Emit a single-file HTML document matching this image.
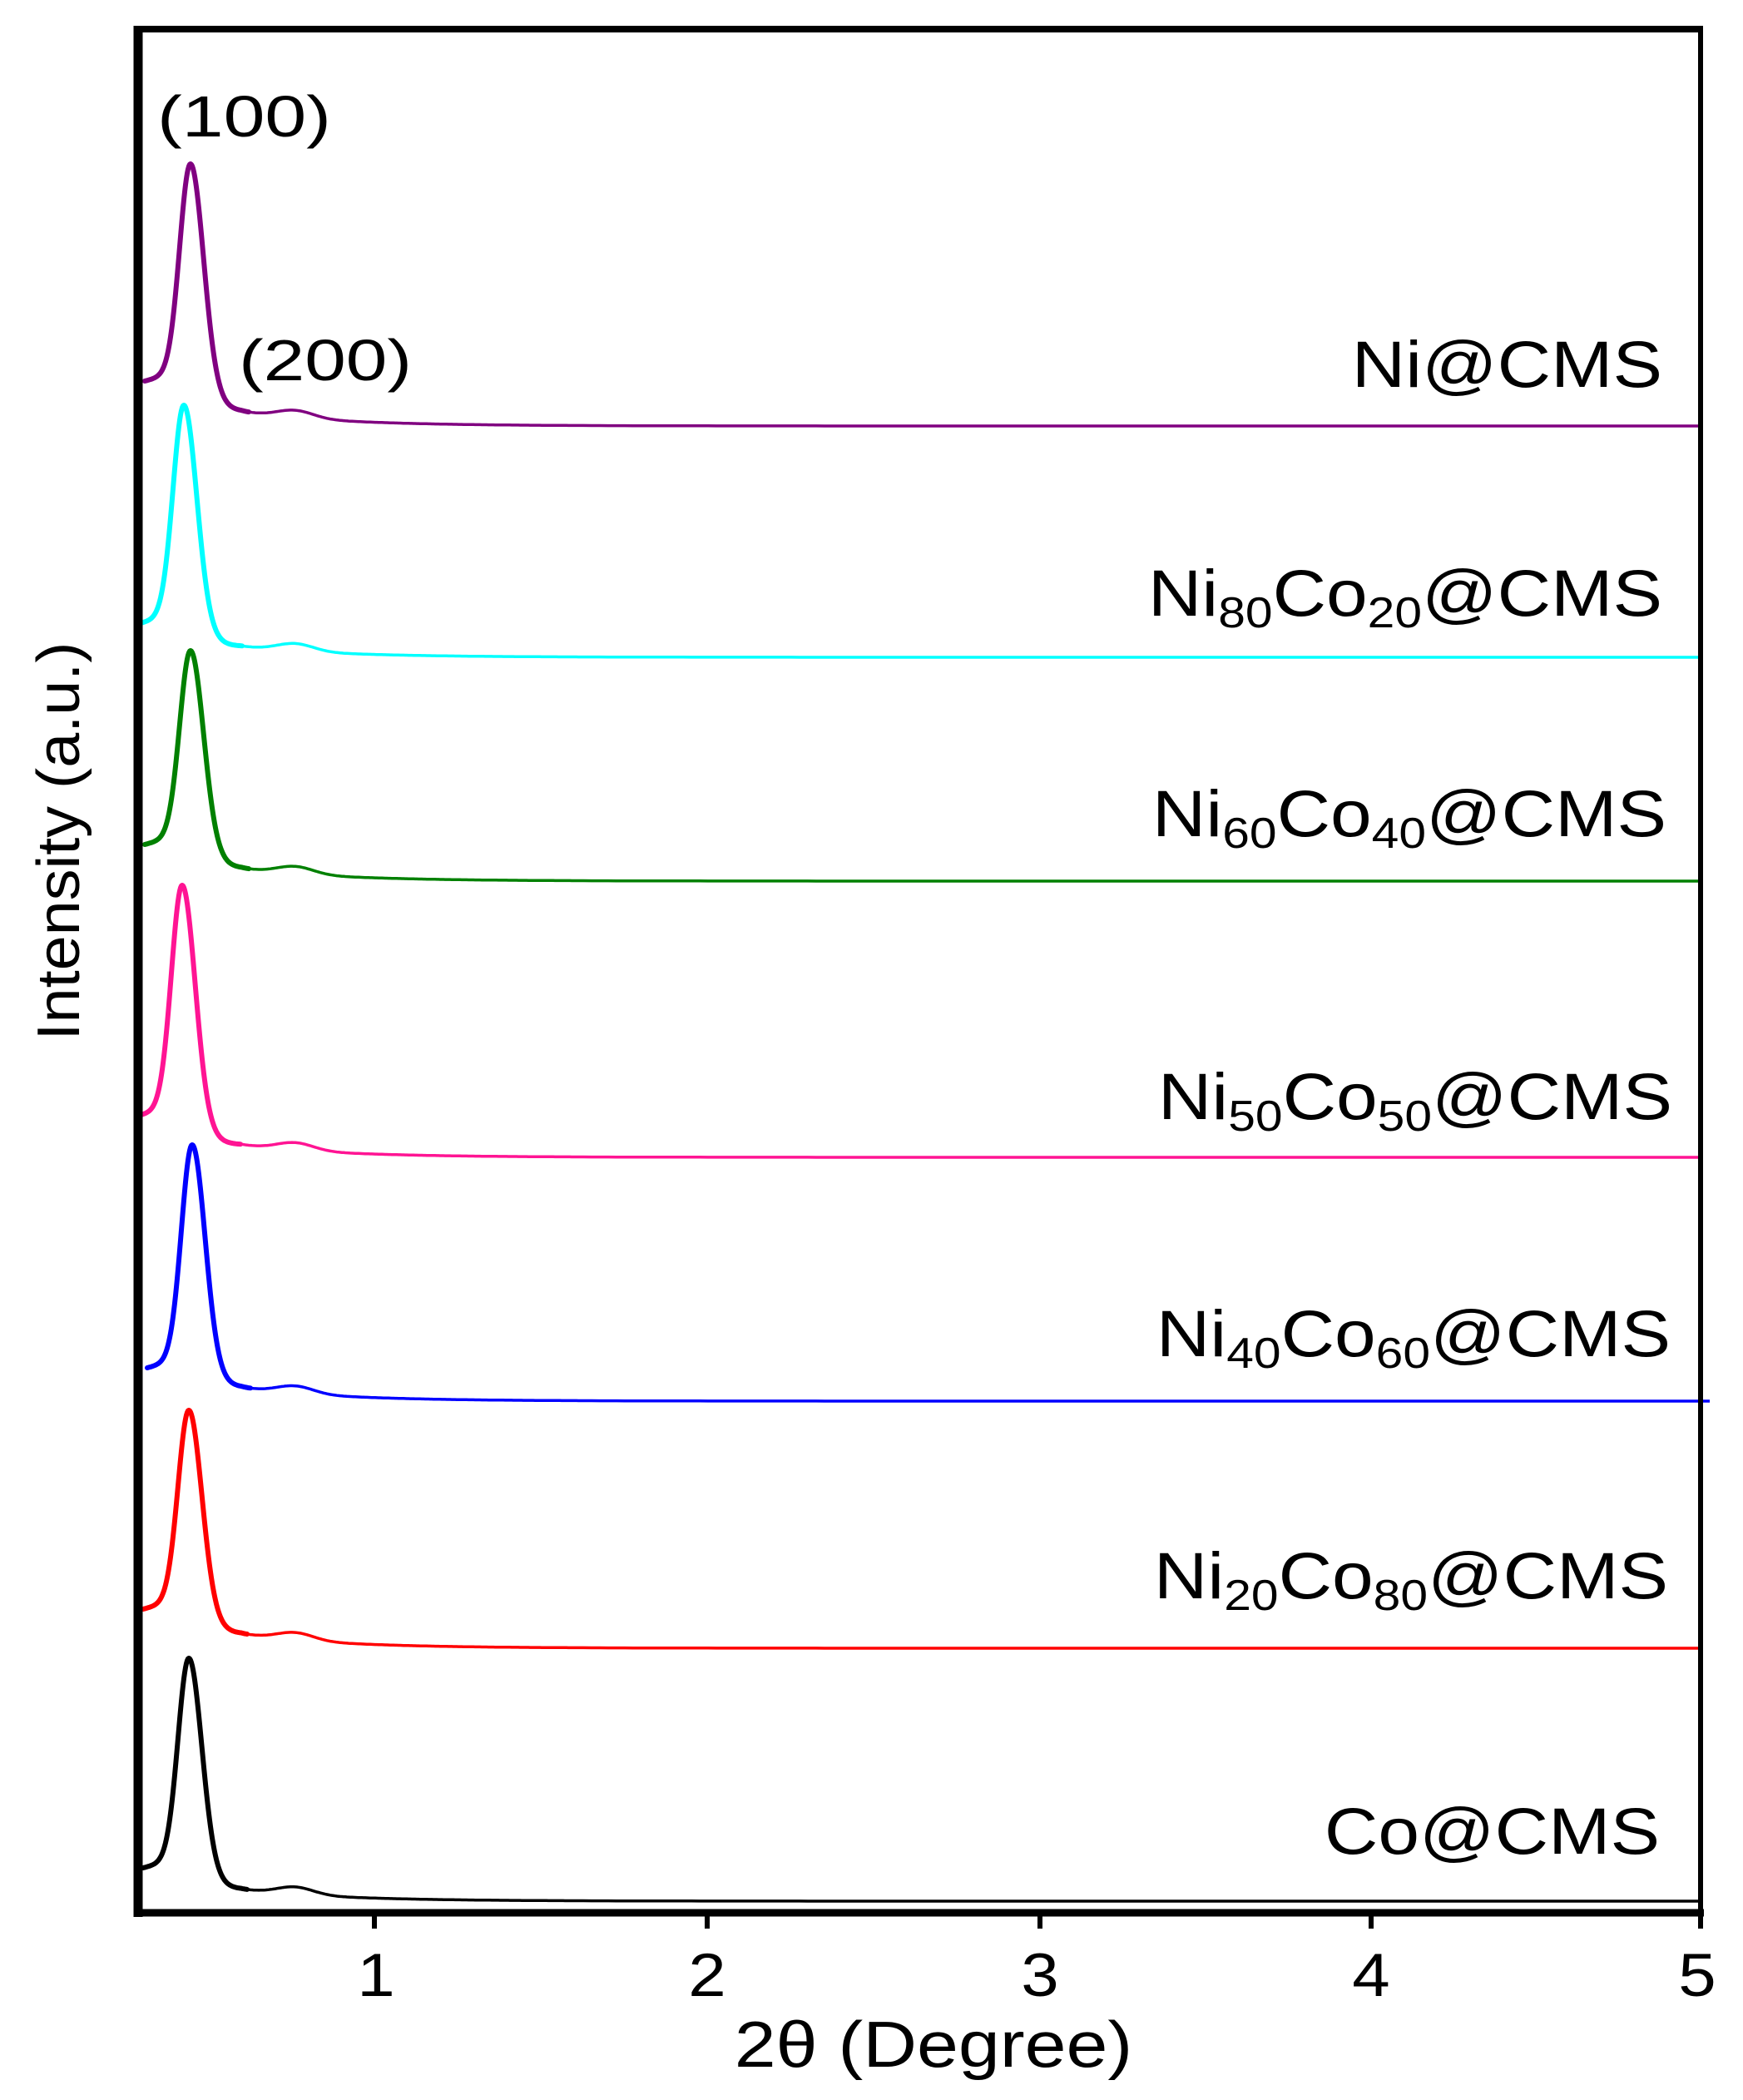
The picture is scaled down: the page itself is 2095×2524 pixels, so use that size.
<!DOCTYPE html>
<html><head><meta charset="utf-8"><style>
html,body{margin:0;padding:0;background:#fff;}
svg{display:block;}
text{font-family:"Liberation Sans",Arial,sans-serif;fill:#000;}
</style></head><body>
<svg id="s" width="2095" height="2524" viewBox="0 0 2095 2524" xmlns="http://www.w3.org/2000/svg">
<rect x="0" y="0" width="2095" height="2524" fill="#fff"/>
<g id="curves"></g>
<line x1="166" y1="35" x2="2046" y2="35" stroke="#000" stroke-width="8"/>
<line x1="2044" y1="31" x2="2044" y2="2302" stroke="#000" stroke-width="6"/>
<line x1="166" y1="31" x2="166" y2="2304" stroke="#000" stroke-width="11"/>
<line x1="161" y1="2299" x2="2048" y2="2299" stroke="#000" stroke-width="9"/>
<g stroke="#000" stroke-width="6">
<line x1="450" y1="2299" x2="450" y2="2318"/>
<line x1="850" y1="2299" x2="850" y2="2318"/>
<line x1="1250" y1="2299" x2="1250" y2="2318"/>
<line x1="1648" y1="2299" x2="1648" y2="2318"/>
<line x1="2044" y1="2299" x2="2044" y2="2318"/>
</g>
<g font-size="73" text-anchor="middle">
<text transform="translate(452,2399) scale(1.12,1)">1</text>
<text transform="translate(850,2399) scale(1.12,1)">2</text>
<text transform="translate(1250,2399) scale(1.12,1)">3</text>
<text transform="translate(1648,2399) scale(1.12,1)">4</text>
<text transform="translate(2040,2399) scale(1.12,1)">5</text>
</g>
<text transform="translate(1122,2484) scale(1.15,1)" font-size="78" text-anchor="middle">2θ (Degree)</text>
<text transform="translate(95,1011) rotate(-90) scale(1.05,1)" font-size="72" text-anchor="middle">Intensity (a.u.)</text>
<text x="189" y="164" font-size="70" textLength="209" lengthAdjust="spacingAndGlyphs">(100)</text>
<text x="287" y="457" font-size="70" textLength="208" lengthAdjust="spacingAndGlyphs">(200)</text>
<g font-size="79" text-anchor="end">
<text transform="translate(1998,465) scale(1.13,1)">Ni@CMS</text>
<text transform="translate(1998,740) scale(1.13,1)">Ni<tspan font-size="52" dy="14">80</tspan><tspan dy="-14">Co</tspan><tspan font-size="52" dy="14">20</tspan><tspan dy="-14">@CMS</tspan></text>
<text transform="translate(2003,1005) scale(1.13,1)">Ni<tspan font-size="52" dy="14">60</tspan><tspan dy="-14">Co</tspan><tspan font-size="52" dy="14">40</tspan><tspan dy="-14">@CMS</tspan></text>
<text transform="translate(2010,1345) scale(1.13,1)">Ni<tspan font-size="52" dy="14">50</tspan><tspan dy="-14">Co</tspan><tspan font-size="52" dy="14">50</tspan><tspan dy="-14">@CMS</tspan></text>
<text transform="translate(2008,1630) scale(1.13,1)">Ni<tspan font-size="52" dy="14">40</tspan><tspan dy="-14">Co</tspan><tspan font-size="52" dy="14">60</tspan><tspan dy="-14">@CMS</tspan></text>
<text transform="translate(2005,1921) scale(1.13,1)">Ni<tspan font-size="52" dy="14">20</tspan><tspan dy="-14">Co</tspan><tspan font-size="52" dy="14">80</tspan><tspan dy="-14">@CMS</tspan></text>
<text transform="translate(1995,2228) scale(1.13,1)">Co@CMS</text>
</g>
</svg>
<script>
(function(){
var series=[
 {c:"#800080",x0:174,ys:458,xp:229,yp:197,ya:495,yf:512,xe:2044},
 {c:"#00ffff",x0:169,ys:749,xp:221,yp:487,ya:777,yf:790,xe:2044},
 {c:"#008000",x0:174,ys:1015,xp:229,yp:782,ya:1044,yf:1059,xe:2044},
 {c:"#ff1493",x0:166,ys:1341,xp:219,yp:1064,ya:1376,yf:1391,xe:2044},
 {c:"#0000ff",x0:177,ys:1644,xp:231,yp:1376,ya:1668,yf:1684,xe:2055},
 {c:"#ff0000",x0:172,ys:1934,xp:227,yp:1695,ya:1964,yf:1981,xe:2044},
 {c:"#000000",x0:172,ys:2245,xp:227,yp:1993,ya:2271,yf:2285,xe:2044}
];
var g=document.getElementById("curves");
var ns="http://www.w3.org/2000/svg";
series.forEach(function(s){
  function base(x){
    var t=1/(1+Math.exp(-(x-(s.xp+25))/10));
    var pre=s.ys-(x-s.x0)*0.25;
    var b=pre*(1-t)+s.ya*t;
    b+= (s.yf-s.ya)*(1-Math.exp(-Math.max(0,x-290)/120));
    b-= 9*Math.exp(-Math.pow(x-355,2)/(2*22*22));
    return b;
  }
  var A=base(s.xp)-s.yp;
  function y(x){
    var sg=x<s.xp?13:15;
    return base(x)-A*Math.exp(-Math.pow(x-s.xp,2)/(2*sg*sg));
  }
  var d1="",d2="";
  for(var x=s.x0;x<=s.xp+70;x+=1){d1+=(d1?"L":"M")+x+","+y(x).toFixed(1);}
  for(var x=s.xp+68;x<s.xe;x+=(x<700?2:10)){d2+=(d2?"L":"M")+x+","+y(x).toFixed(1);}
  d2+="L"+s.xe+","+y(s.xe).toFixed(1);
  var p1=document.createElementNS(ns,"path");p1.setAttribute("d",d1);p1.setAttribute("fill","none");p1.setAttribute("stroke",s.c);p1.setAttribute("stroke-width","6");p1.setAttribute("stroke-linejoin","round");p1.setAttribute("stroke-linecap","round");
  var p2=document.createElementNS(ns,"path");p2.setAttribute("d",d2);p2.setAttribute("fill","none");p2.setAttribute("stroke",s.c);p2.setAttribute("stroke-width","3.5");
  g.appendChild(p1);g.appendChild(p2);
});
})();
</script>
</body></html>
